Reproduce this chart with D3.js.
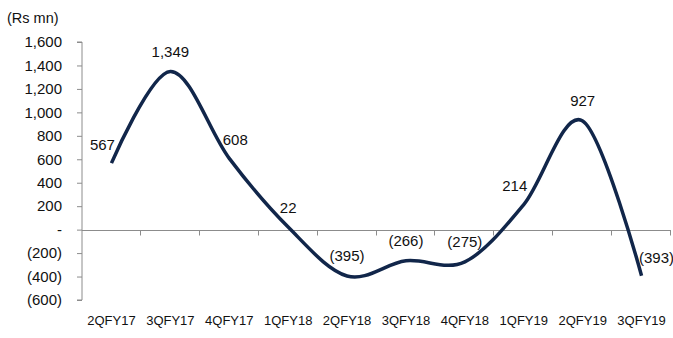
<!DOCTYPE html>
<html>
<head>
<meta charset="utf-8">
<script src="https://cdn.jsdelivr.net/npm/d3@7"></script>
<style>
  html, body { margin: 0; padding: 0; background: #fff; }
  svg { display: block; }
  text { font-family: "Liberation Sans", Arial, sans-serif; fill: #111; }
</style>
</head>
<body>
<div id="chart"></div>
<script>
const categories = ["2QFY17","3QFY17","4QFY17","1QFY18","2QFY18","3QFY18","4QFY18","1QFY19","2QFY19","3QFY19"];
const values = [567, 1349, 608, 22, -395, -266, -275, 214, 927, -393];
const yTicks = [-600, -400, -200, 0, 200, 400, 600, 800, 1000, 1200, 1400, 1600];
const labelPlacement = ["aboveLeft","above","aboveRight","above","above","above","above","aboveLeft","above","right"];
const unitLabel = "(Rs mn)";

(function () {
const W = 673, H = 338;
const mLeft = 82, mRight = 671, mTop = 42, mBottom = 300;

const svg = d3.select("#chart").append("svg").attr("width", W).attr("height", H);

const y = d3.scaleLinear().domain([-600, 1600]).range([mBottom, mTop]);
const x = d3.scaleBand().domain(categories).range([mLeft, mRight]).padding(0);
const cx = d => x(d) + x.bandwidth() / 2;

const fmt = v => v === 0 ? "-" : (v < 0 ? "(" + d3.format(",")(-v) + ")" : d3.format(",")(v));

// Y axis
const yAxis = d3.axisLeft(y).tickValues(yTicks).tickSize(5).tickPadding(15).tickFormat(fmt);
const gy = svg.append("g").attr("transform", `translate(${mLeft},0)`).call(yAxis);
gy.select(".domain").attr("stroke", "#8c8c8c").attr("d", `M-5,${y(-600)}H0V${y(1600)}H-5`);
gy.selectAll(".tick line").attr("stroke", "#8c8c8c");
gy.selectAll(".tick text").style("font-size", "15px").style("font-family", "'Liberation Sans', Arial, sans-serif").attr("fill", "#111");

// Zero line with category boundary ticks
const y0 = Math.round(y(0)) + 0.5;
svg.append("line").attr("x1", mLeft).attr("x2", mRight).attr("y1", y0).attr("y2", y0)
  .attr("stroke", "#8c8c8c").attr("stroke-width", 1);
const bounds = categories.map(c => x(c) + x.bandwidth());
svg.append("g").selectAll("line").data(bounds).join("line")
  .attr("x1", d => Math.round(d) - 0.5).attr("x2", d => Math.round(d) - 0.5)
  .attr("y1", y0).attr("y2", y0 + 5)
  .attr("stroke", "#8c8c8c");

// X labels
const xAxis = d3.axisBottom(x).tickSize(0).tickPadding(0);
const gx = svg.append("g").attr("transform", `translate(0,${mBottom + 16})`).call(xAxis);
gx.select(".domain").remove();
gx.selectAll(".tick text").style("font-size", "13px").style("font-family", "'Liberation Sans', Arial, sans-serif").attr("fill", "#111");

// Unit label
svg.append("text").attr("x", 7).attr("y", 23).style("font-size", "14.5px").text(unitLabel);

// Line
const data = categories.map((c, i) => ({ c, v: values[i], p: labelPlacement[i] }));
const line = d3.line().x(d => cx(d.c)).y(d => y(d.v)).curve(d3.curveCardinal.tension(0));
svg.append("path").datum(data).attr("d", line)
  .attr("fill", "none").attr("stroke", "#11264a").attr("stroke-width", 3.5)
  .attr("stroke-linecap", "butt").attr("stroke-linejoin", "round");

// Data labels
const offsets = {
  above: [0, -20],
  aboveLeft: [-9, -19],
  aboveRight: [6, -19],
  right: [15, -18]
};
svg.append("g").selectAll("text").data(data).join("text")
  .attr("x", d => cx(d.c) + offsets[d.p][0])
  .attr("y", d => y(d.v) + offsets[d.p][1])
  .attr("text-anchor", "middle")
  .attr("dominant-baseline", "central")
  .style("font-size", "15px")
  .text(d => fmt(d.v));
})();
</script>
</body>
</html>
